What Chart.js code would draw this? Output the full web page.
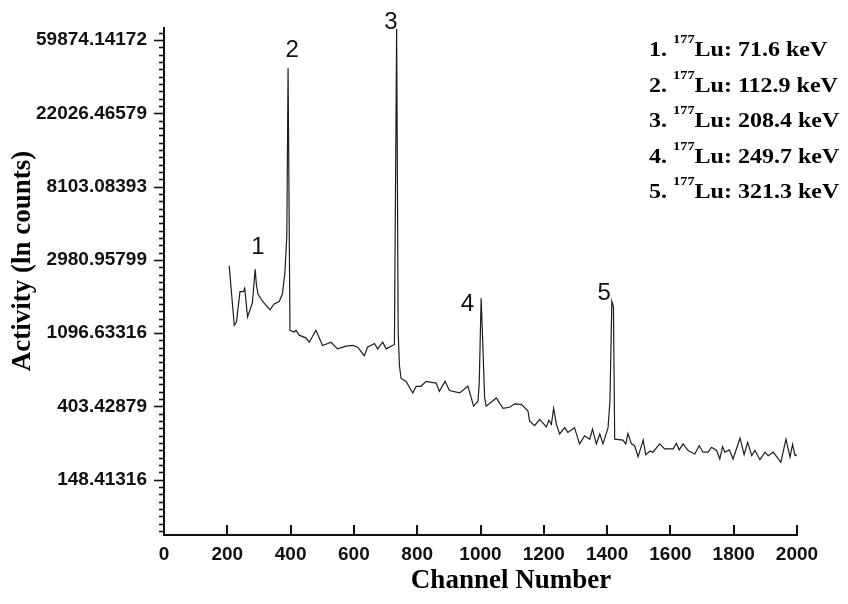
<!DOCTYPE html>
<html><head><meta charset="utf-8">
<script src="https://cdn.jsdelivr.net/npm/chart.js@4/dist/chart.umd.min.js"></script>
<style>html,body{margin:0;padding:0;background:#fff;}#wrap{width:848px;height:604px;position:relative;}</style>
</head><body><div id="wrap"><canvas id="c" width="848" height="604"></canvas></div>
<script>
// ---- data (channel number, counts) ----
const channels = [206,222,229,240,251,255,264,279,284,288,292,297,311,335,348,364,374,382,388,392,398,411,417,427,448,459,480,501,528,548,575,596,612,633,643,665,675,691,702,722,728,735,740,744,749,765,786,797,812,828,860,870,888,902,934,960,971,978,992,996,1002,1007,1013,1018,1050,1071,1092,1108,1129,1150,1155,1171,1187,1208,1216,1224,1231,1240,1250,1266,1276,1297,1313,1329,1345,1354,1366,1377,1387,1403,1409,1415,1420,1424,1450,1459,1466,1477,1487,1498,1514,1522,1535,1545,1566,1582,1609,1619,1628,1640,1656,1677,1691,1703,1719,1730,1746,1756,1765,1772,1786,1798,1820,1833,1844,1857,1867,1883,1899,1909,1925,1949,1965,1978,1986,1994,2002];
const counts   = [2746,1222,1277,1933,1933,2021,1367,1650,2122,2623,2122,1871,1696,1507,1634,1689,1871,2507,4134,40800,1141,1115,1141,1067,1029,969,1141,927,969,885,918,927,905,806,905,952,885,969,885,927,940,70000,1100,700,591,568,485,531,531,568,555,496,568,501,485,531,453,405,433,554,1765,982,455,405,453,393,399,418,415,379,331,310,338,305,334,316,393,316,277,302,283,302,242,270,258,296,242,277,242,302,433,1696,1577,258,255,242,279,242,236,203,255,209,219,216,242,226,226,244,223,242,221,211,236,216,216,231,221,197,233,216,223,197,262,209,247,206,221,195,216,206,216,188,258,202,240,206,209];

const xTickValues = [0,200,400,600,800,1000,1200,1400,1600,1800,2000];
const yTickExponents = [5,6,7,8,9,10,11];          // ticks at e^n counts
const yRangeExponents = [4.245, 11.16];             // ln(counts) axis range

const peakLabels = ['1','2','3','4','5'];
const peakLabelChannels = [297,405,717,959,1391];
const peakLabelCounts = [3533,52200,76200,1632,1882];

const legendNumbers = ['1.','2.','3.','4.','5.'];
const legendIsotope = '177';
const legendElement = 'Lu';
const legendEnergies = ['71.6','112.9','208.4','249.7','321.3'];

const xTitle = 'Channel Number';
const yTitle = 'Activity (ln counts)';

// ---- drawing ----
const decor = {
  id: 'decor',
  afterDraw(chart) {
    const ctx = chart.ctx, xs = chart.scales.x, ys = chart.scales.y;
    const axX = chart.chartArea.left - 1, axY = chart.chartArea.bottom + 1;
    ctx.save();
    ctx.strokeStyle = '#111'; ctx.lineWidth = 1.6;
    // y ticks (major and minor every 0.1 ln unit)
    for (let k = Math.ceil(yRangeExponents[0]*10); k <= Math.floor(yRangeExponents[1]*10); k++) {
      const py = Math.round(ys.getPixelForValue(Math.exp(k/10))) + 0.5;
      const len = (k % 10 === 0) ? 9 : 4;
      ctx.beginPath(); ctx.moveTo(axX - len, py); ctx.lineTo(axX, py); ctx.stroke();
    }
    // x ticks pointing inward
    ctx.lineWidth = 2;
    xTickValues.forEach(v => {
      if (v === 0) return;
      const px = Math.round(xs.getPixelForValue(v));
      ctx.beginPath(); ctx.moveTo(px, axY); ctx.lineTo(px, axY - 11); ctx.stroke();
    });
    // peak labels
    ctx.fillStyle = '#111';
    ctx.font = '24px "Liberation Sans", Arial, sans-serif';
    ctx.textAlign = 'center'; ctx.textBaseline = 'middle';
    peakLabels.forEach((t, i) => {
      ctx.fillText(t, xs.getPixelForValue(peakLabelChannels[i]), ys.getPixelForValue(peakLabelCounts[i]));
    });
    // legend text
    ctx.textAlign = 'left'; ctx.textBaseline = 'alphabetic'; ctx.fillStyle = '#000';
    legendNumbers.forEach((n, i) => {
      ctx.save();
      ctx.translate(649, 56 + i * 35.6);
      ctx.scale(1.2, 1);
      let x = 0;
      ctx.font = 'bold 20px "Liberation Serif", "Times New Roman", serif';
      ctx.fillText(n + ' ', x, 0); x += ctx.measureText(n + ' ').width;
      ctx.font = 'bold 12px "Liberation Serif", "Times New Roman", serif';
      ctx.fillText(legendIsotope, x, -13); x += ctx.measureText(legendIsotope).width;
      ctx.font = 'bold 20px "Liberation Serif", "Times New Roman", serif';
      ctx.fillText(legendElement + ': ' + legendEnergies[i] + ' keV', x, 0);
      ctx.restore();
    });
    // axis titles
    ctx.font = 'bold 27px "Liberation Serif", "Times New Roman", serif';
    ctx.textAlign = 'center'; ctx.textBaseline = 'middle';
    ctx.fillText(xTitle, 511, 581);
    ctx.save(); ctx.translate(23, 261); ctx.rotate(-Math.PI/2);
    ctx.fillText(yTitle, 0, 0);
    ctx.restore();
    ctx.restore();
  }
};

const tickFont = {family: '"Liberation Sans", Arial, sans-serif', weight: 'bold', size: 19};
new Chart(document.getElementById('c').getContext('2d'), {
  type: 'line',
  data: { datasets: [{
    data: channels.map((c, i) => ({x: c, y: counts[i]})),
    borderColor: '#1e1e1e', borderWidth: 1.2, pointRadius: 0, tension: 0, fill: false
  }]},
  options: {
    responsive: false, animation: false,
    layout: {padding: {top: 25, right: 51, left: 0, bottom: 0}},
    plugins: {legend: {display: false}, tooltip: {enabled: false}},
    scales: {
      x: {
        type: 'linear', min: 0, max: 2000,
        afterBuildTicks(s) { s.ticks = xTickValues.map(v => ({value: v})); },
        ticks: {font: tickFont, color: '#111', padding: 8, maxRotation: 0, autoSkip: false,
                callback: v => String(v)},
        grid: {display: false, drawTicks: false},
        border: {display: true, color: '#111', width: 2},
        afterFit(s) { s.height = 69; }
      },
      y: {
        type: 'logarithmic', min: Math.exp(yRangeExponents[0]), max: Math.exp(yRangeExponents[1]),
        afterBuildTicks(s) { s.ticks = yTickExponents.map(n => ({value: Math.exp(n)})); },
        ticks: {font: tickFont, color: '#111', padding: 17, autoSkip: false,
                callback: v => Number(v).toFixed(5)},
        grid: {display: false, drawTicks: false},
        border: {display: true, color: '#111', width: 2},
        afterFit(s) { s.width = 164; }
      }
    }
  },
  plugins: [decor]
});
</script></body></html>
